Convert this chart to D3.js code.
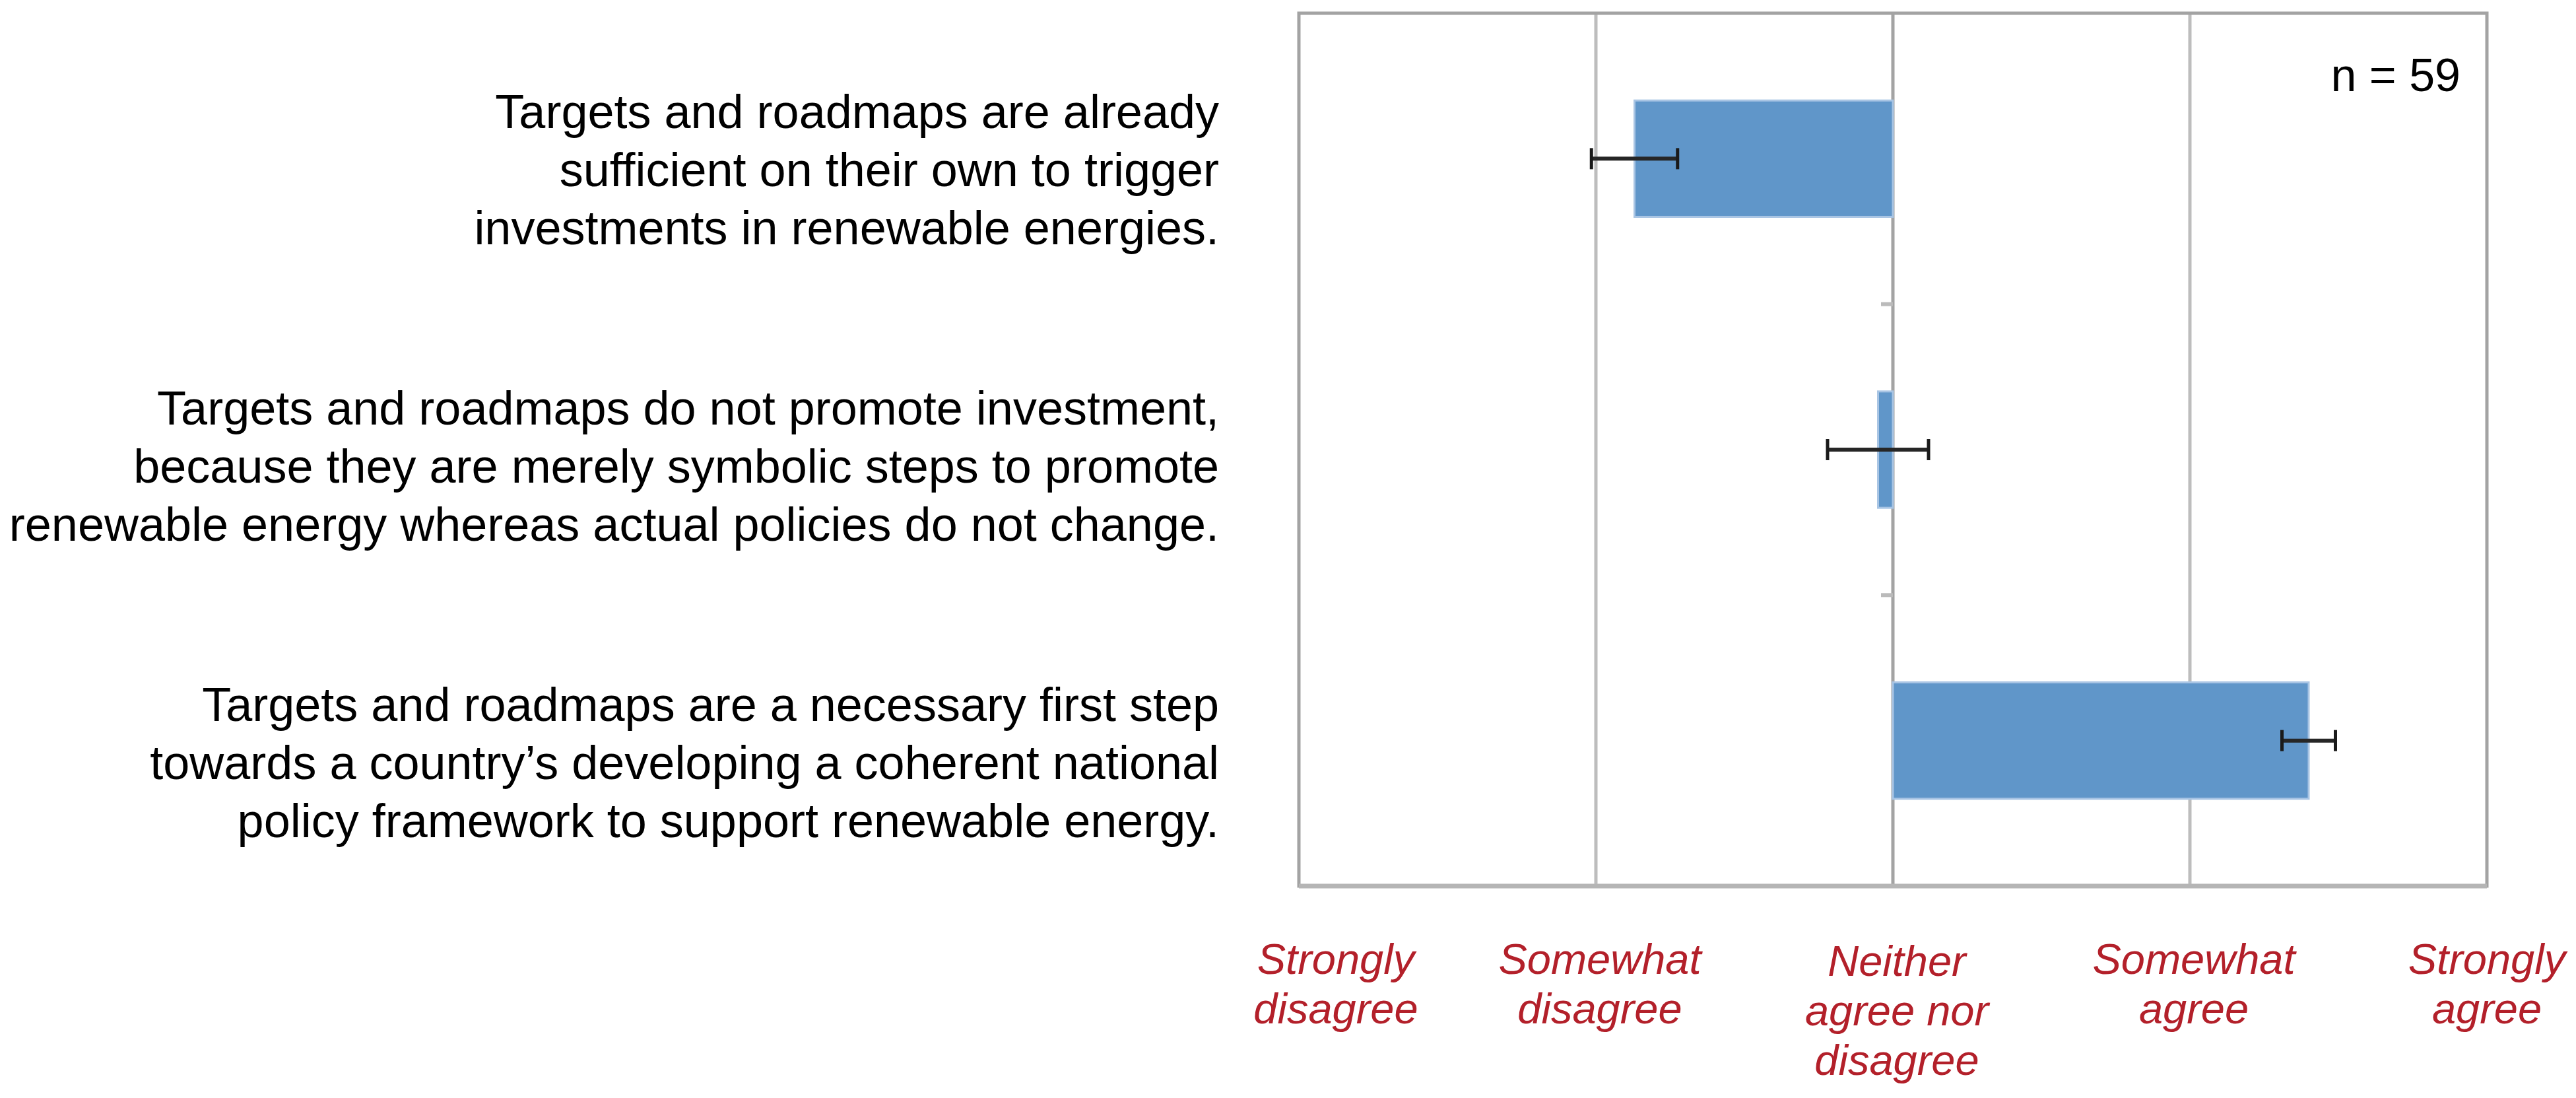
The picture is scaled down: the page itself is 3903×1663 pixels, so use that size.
<!DOCTYPE html>
<html>
<head>
<meta charset="utf-8">
<script src="https://cdn.jsdelivr.net/npm/d3@7"></script>
<style>
  body { margin: 0; background: #fff; }
  text { font-family: "Liberation Sans", Arial, Helvetica, sans-serif; }
</style>
</head>
<body>
<div id="chart"></div>
<script>
// statements (one line per text row, as printed)
const statements = [
	["Targets and roadmaps are already", "sufficient on their own to trigger", "investments in renewable energies."],
	["Targets and roadmaps do not promote investment,", "because they are merely symbolic steps to promote", "renewable energy whereas actual policies do not change."],
	["Targets and roadmaps are a necessary first step", "towards a country\u2019s developing a coherent national", "policy framework to support renewable energy."]
];

// mean agreement (0 = neither agree nor disagree) and error bar half-widths
const meanScores = [-0.87, -0.05, 1.40];
const errorMargins = [0.145, 0.17, 0.09];

// Likert scale ticks
const scaleValues = [-2, -1, 0, 1, 2];
const scaleLabels = [
	["Strongly", "disagree"],
	["Somewhat", "disagree"],
	["Neither", "agree nor", "disagree"],
	["Somewhat", "agree"],
	["Strongly", "agree"]
];

const sampleNote = "n = 59";

var width = 3903, height = 1663;
var plot = { left: 1968, right: 3768, top: 20, bottom: 1342 };

var svg = d3.select("#chart").append("svg")
	.attr("width", width)
	.attr("height", height);

var keys = statements.map((d, i) => "s" + i);

var x = d3.scaleLinear()
	.domain([-2, 2])
	.range([plot.left, plot.right]);

var y = d3.scaleBand()
	.domain(keys)
	.range([plot.top, plot.bottom])
	.paddingInner(0.6)
	.paddingOuter(0.3);

// label blocks sit slightly apart from the band centres
var labelY = d3.scalePoint()
	.domain(keys)
	.range([282, 1180]);

// vertical gridlines
svg.append("g")
	.selectAll("line")
	.data(scaleValues.filter(v => v !== -2 && v !== 2 && v !== 0))
	.enter()
	.append("line")
	.attr("x1", d => x(d)).attr("x2", d => x(d))
	.attr("y1", plot.top).attr("y2", plot.bottom)
	.attr("stroke", "#bdbdbd")
	.attr("stroke-width", 5);

// category axis at zero, with tick marks between bands
var yAxis = d3.axisLeft(y).tickSize(0).tickFormat("");
var axisG = svg.append("g")
	.attr("transform", "translate(" + x(0) + ",0)")
	.call(yAxis);
axisG.select(".domain").remove();
axisG.append("line")
	.attr("x1", 0).attr("x2", 0)
	.attr("y1", plot.top).attr("y2", plot.bottom)
	.attr("stroke", "#a3a3a3")
	.attr("stroke-width", 5);
axisG.selectAll(".sep")
	.data(keys.slice(1))
	.enter()
	.append("line")
	.attr("class", "sep")
	.attr("x1", -18).attr("x2", 0)
	.attr("y1", d => y(d) - y.step() * y.paddingInner() / 2)
	.attr("y2", d => y(d) - y.step() * y.paddingInner() / 2)
	.attr("stroke", "#bbbbbb")
	.attr("stroke-width", 6);

// bars
svg.append("g")
	.selectAll("rect")
	.data(keys)
	.enter()
	.append("rect")
	.attr("class", "bar")
	.attr("x", (d, i) => x(Math.min(0, meanScores[i])))
	.attr("y", d => y(d))
	.attr("width", (d, i) => Math.abs(x(meanScores[i]) - x(0)))
	.attr("height", y.bandwidth())
	.attr("fill", "#6096c9")
	.attr("stroke", "#a9c5e4")
	.attr("stroke-width", 3);

// error bars
var err = svg.append("g")
	.selectAll("g")
	.data(keys)
	.enter()
	.append("g")
	.attr("stroke", "#1a1a1a");

err.append("line")
	.attr("stroke-width", 6)
	.attr("stroke", "#262626")
	.attr("x1", (d, i) => x(meanScores[i] - errorMargins[i]))
	.attr("x2", (d, i) => x(meanScores[i] + errorMargins[i]))
	.attr("y1", d => y(d) + y.bandwidth() / 2)
	.attr("y2", d => y(d) + y.bandwidth() / 2);

[-1, 1].forEach(function (side) {
	err.append("line")
		.attr("stroke-width", 5)
		.attr("x1", (d, i) => x(meanScores[i] + side * errorMargins[i]))
		.attr("x2", (d, i) => x(meanScores[i] + side * errorMargins[i]))
		.attr("y1", d => y(d) + y.bandwidth() / 2 - 16)
		.attr("y2", d => y(d) + y.bandwidth() / 2 + 16);
});

// plot frame
svg.append("rect")
	.attr("x", plot.left).attr("y", plot.top)
	.attr("width", plot.right - plot.left)
	.attr("height", plot.bottom - plot.top)
	.attr("fill", "none")
	.attr("stroke", "#a3a3a3")
	.attr("stroke-width", 5);
svg.append("line")
	.attr("x1", plot.left).attr("x2", plot.right)
	.attr("y1", plot.bottom).attr("y2", plot.bottom)
	.attr("stroke", "#b5b5b5")
	.attr("stroke-width", 7);

// n note
svg.append("text")
	.attr("x", plot.right - 40)
	.attr("y", 138)
	.attr("text-anchor", "end")
	.attr("font-size", 70)
	.attr("fill", "#000")
	.text(sampleNote);

// statement labels
var stmt = svg.append("g")
	.selectAll("text")
	.data(keys)
	.enter()
	.append("text")
	.attr("text-anchor", "end")
	.attr("font-size", 72)
	.attr("fill", "#000");

stmt.selectAll("tspan")
	.data((d, i) => statements[i].map((line, k) => ({ line: line, k: k, key: d })))
	.enter()
	.append("tspan")
	.attr("x", 1847)
	.attr("y", d => labelY(d.key) + (d.k - 1) * 88)
	.text(d => d.line);

// agreement scale labels under the axis
var scale = svg.append("g")
	.selectAll("text")
	.data(scaleValues)
	.enter()
	.append("text")
	.attr("text-anchor", "middle")
	.attr("font-size", 65)
	.attr("font-style", "italic")
	.attr("fill", "#b3202a");

scale.selectAll("tspan")
	.data((d, i) => scaleLabels[i].map((line, k) => ({ line: line, k: k, v: d, i: i })))
	.enter()
	.append("tspan")
	.attr("x", d => x(d.v) + (d.i === 0 ? 56 : (d.i === 4 ? 0 : 6)))
	.attr("y", d => 1475 + d.k * 75 + (d.v === 0 ? 3 : 0))
	.text(d => d.line);
</script>
</body>
</html>
